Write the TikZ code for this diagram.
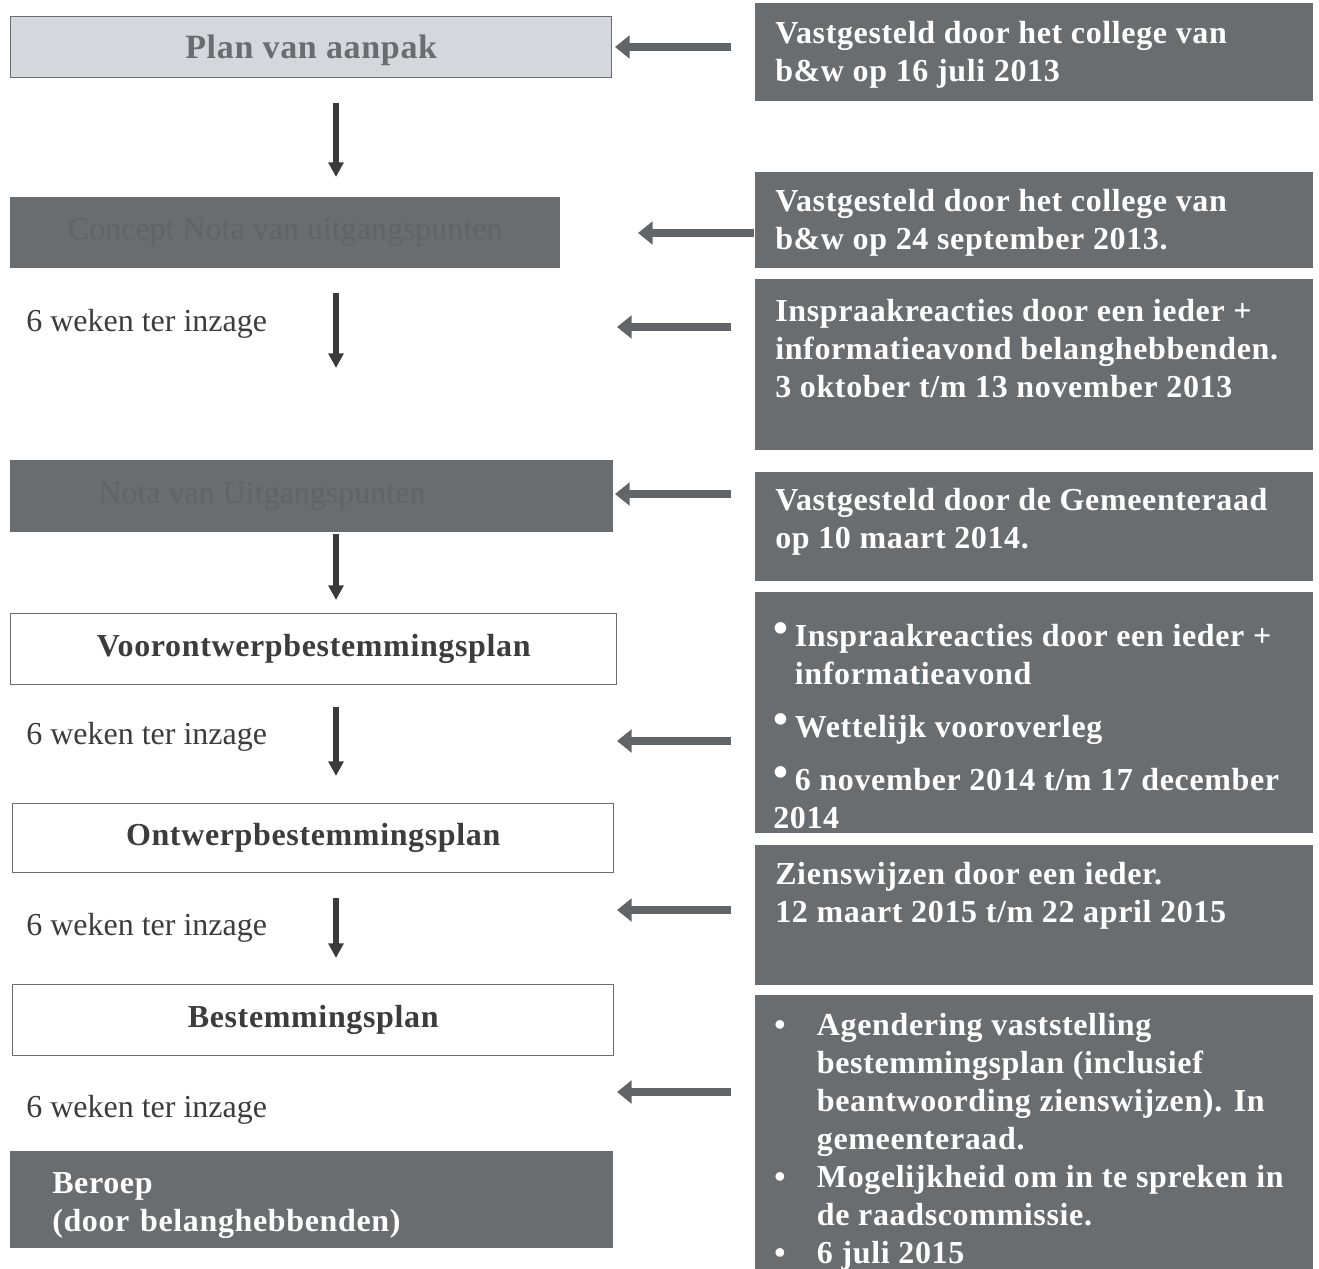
\documentclass[tikz,border=0pt]{standalone}
\usepackage{fontspec}
\setmainfont{Liberation Serif}[BoldFeatures={LetterSpace=2.0}]
\usetikzlibrary{arrows.meta,positioning}
\newlength\pxu
\setlength\pxu{0.75pt}
\definecolor{boxgray}{RGB}{106,109,112}
\definecolor{lightbox}{RGB}{214,215,220}
\definecolor{arrowgray}{RGB}{98,101,104}
\definecolor{darkarrow}{RGB}{58,58,60}
\definecolor{txtdark}{RGB}{60,60,62}
\definecolor{ghost}{RGB}{97,100,103}
\newcommand\bul{\raisebox{.12em}{\fontsize{32}{32}\selectfont •}\hspace{5pt}}
\newcommand\itm{\makebox[32pt][l]{•}}

\begin{document}
\begin{tikzpicture}[x=0.75pt, y=-0.75pt,
  every node/.style={font=\fontsize{24}{29}\selectfont},
  darkbox/.style={fill=boxgray, anchor=north west, inner sep=0},
  whitebox/.style={draw=boxgray, line width=1.1pt, fill=white, anchor=north west, inner sep=0,
    text=txtdark, font=\fontsize{24}{29}\selectfont\bfseries},
  boxtext/.style={anchor=north west, align=left, inner sep=0, text=white,
    font=\fontsize{24}{28.5}\selectfont\bfseries},
  inzage/.style={anchor=base west, inner sep=0, text=txtdark},
  downarrow/.style={darkarrow, line width=5pt, -{Triangle[width=11pt,length=11pt]}},
  leftarrow/.style={arrowgray, line width=5.5pt, -{Triangle[width=17pt,length=11pt]}}]
  \useasboundingbox (0,0) rectangle (1319,1269);

  % procedure
  \node[whitebox, fill=lightbox, minimum width=601\pxu, minimum height=61\pxu, text=boxgray,
    font=\fontsize{25.5}{30}\selectfont\bfseries] (aanpak) at (10,16)
    {\raisebox{-8.6pt}[0pt][0pt]{Plan van aanpak}};
  \node[darkbox, minimum width=550\pxu, minimum height=71\pxu, text=ghost] (concept) at (10,197)
    {Concept Nota van uitgangspunten};
  \node[darkbox, minimum width=603\pxu, minimum height=72\pxu] (nota) at (10,460) {};
  \node[inner sep=0, text=ghost] (notatxt) at (262,496) {Nota van Uitgangspunten};
  \node[whitebox, minimum width=606\pxu, minimum height=71\pxu] (voorontwerp) at (10,613)
    {Voorontwerpbestemmingsplan};
  \node[whitebox, minimum width=601\pxu, minimum height=69\pxu] (ontwerp) at (12,803)
    {Ontwerpbestemmingsplan};
  \node[whitebox, minimum width=601\pxu, minimum height=71\pxu] (bestemming) at (12,984)
    {Bestemmingsplan};
  \node[darkbox, minimum width=603\pxu, minimum height=97\pxu, text width=519\pxu, inner xsep=42\pxu,
    align=left, text=white, font=\fontsize{24}{28.5}\selectfont\bfseries] (beroep) at (10,1151)
    {\rule{0pt}{25pt}Beroep\\(door belanghebbenden)};

  \node[inzage] (inzage1) at (26,331) {6 weken ter inzage};
  \node[inzage] (inzage2) at (26,744) {6 weken ter inzage};
  \node[inzage] (inzage3) at (26,935) {6 weken ter inzage};
  \node[inzage] (inzage4) at (26,1117) {6 weken ter inzage};

  % besluiten
  \node[darkbox, minimum width=558\pxu, minimum height=98\pxu] (vastst1) at (755,3) {};
  \node[boxtext] (vastst1txt) at ([shift={(20,18)}]vastst1.north west)
    {Vastgesteld door het college van\\b\&w op 16 juli 2013};
  \node[darkbox, minimum width=558\pxu, minimum height=96\pxu] (vastst2) at (755,172) {};
  \node[boxtext] (vastst2txt) at ([shift={(20,17)}]vastst2.north west)
    {Vastgesteld door het college van\\b\&w op 24 september 2013.};
  \node[darkbox, minimum width=558\pxu, minimum height=171\pxu] (inspraak1) at (755,279) {};
  \node[boxtext] (inspraak1txt) at ([shift={(20,20)}]inspraak1.north west)
    {Inspraakreacties door een ieder +\\informatieavond belanghebbenden.\\3 oktober t/m 13 november 2013};
  \node[darkbox, minimum width=558\pxu, minimum height=109\pxu] (vastst3) at (755,472) {};
  \node[boxtext] (vastst3txt) at ([shift={(20,16)}]vastst3.north west)
    {Vastgesteld door de Gemeenteraad\\op 10 maart 2014.};
  \node[darkbox, minimum width=558\pxu, minimum height=241\pxu] (inspraak2) at (755,592) {};
  \node[boxtext] (inspraak2txt) at ([shift={(18,30)}]inspraak2.north west)
    {\bul Inspraakreacties door een ieder +\\\phantom{\bul}informatieavond\\[11.5pt]
     \bul Wettelijk vooroverleg\\[11.5pt]
     \bul 6 november 2014 t/m 17 december\\2014};
  \node[darkbox, minimum width=558\pxu, minimum height=140\pxu] (zienswijzen) at (755,845) {};
  \node[boxtext] (zienswijzentxt) at ([shift={(20,17)}]zienswijzen.north west)
    {Zienswijzen door een ieder.\\12 maart 2015 t/m 22 april 2015};
  \node[darkbox, minimum width=558\pxu, minimum height=274\pxu] (vaststelling) at (755,995) {};
  \node[boxtext] (vaststellingtxt) at ([shift={(19,18)}]vaststelling.north west)
    {\itm Agendering vaststelling\\\hspace*{32pt}bestemmingsplan (inclusief\\
     \hspace*{32pt}beantwoording zienswijzen). In\\\hspace*{32pt}gemeenteraad.\\
     \itm Mogelijkheid om in te spreken in\\\hspace*{32pt}de raadscommissie.\\
     \itm 6 juli 2015};

  \foreach \ys/\ye [count=\i] in {103/177, 293/368, 534/600, 707/776, 898/958} {
    \coordinate (dtop\i) at (336,\ys);
    \coordinate (dbot\i) at (336,\ye);
    \draw[downarrow] (dtop\i) -- (dbot\i);
  }
  \foreach \xt/\xh/\y [count=\i] in {731/615/47, 754/638/233, 731/617/327, 731/615/494,
      731/617/741, 731/617/910, 731/617/1092} {
    \coordinate (ltail\i) at (\xt,\y);
    \coordinate (lhead\i) at (\xh,\y);
    \draw[leftarrow] (ltail\i) -- (lhead\i);
  }
\end{tikzpicture}
\end{document}
